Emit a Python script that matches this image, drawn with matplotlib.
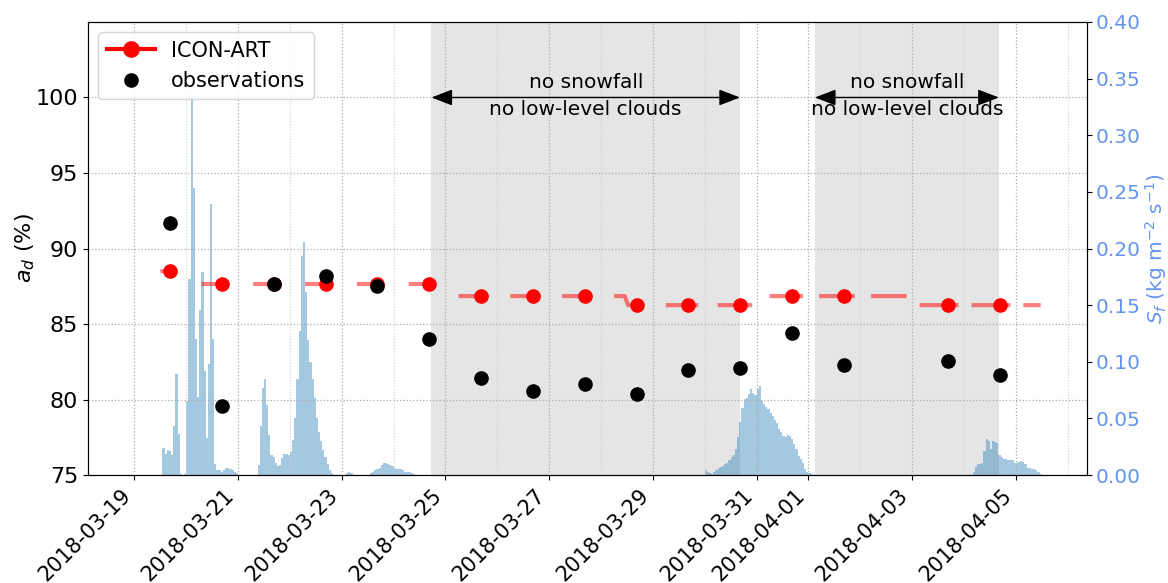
import numpy as np
import pandas as pd
import matplotlib
matplotlib.use("Agg")
import matplotlib.pyplot as plt
import matplotlib.dates as mdates
from matplotlib.lines import Line2D
from matplotlib.ticker import FormatStrFormatter

# ---------------- data ----------------
# daily values (plotted at the afternoon overpass time)
daily_dates = ["2018-03-19", "2018-03-20", "2018-03-21", "2018-03-22", "2018-03-23",
               "2018-03-24", "2018-03-25", "2018-03-26", "2018-03-27", "2018-03-28",
               "2018-03-29", "2018-03-30", "2018-03-31", "2018-04-01", "2018-04-02",
               "2018-04-03", "2018-04-04"]
daily_time = "16:30"
model_daily = [88.5, 87.65, 87.65, 87.65, 87.65, 87.65, 86.85, 86.85, 86.85, 86.25,
               86.25, 86.25, 86.85, 86.85, np.nan, 86.25, 86.25]
obs_daily = [91.7, 79.6, 87.65, 88.15, 87.5, 84.0, 81.4, 80.55, 81.0, 80.35,
             81.95, 82.1, 84.4, 82.3, np.nan, 82.55, 81.6]

# ICON-ART daytime albedo (daylight windows only)
model_seg_times = [
    ["2018-03-19 12:00", "2018-03-19 20:00"],
    ["2018-03-20 07:00", "2018-03-20 19:00"],
    ["2018-03-21 07:00", "2018-03-21 19:00"],
    ["2018-03-22 07:00", "2018-03-22 19:00"],
    ["2018-03-23 07:00", "2018-03-23 19:00"],
    ["2018-03-24 07:00", "2018-03-24 19:00"],
    ["2018-03-25 06:00", "2018-03-25 20:00"],
    ["2018-03-26 06:00", "2018-03-26 20:00"],
    ["2018-03-27 06:00", "2018-03-27 20:00"],
    ["2018-03-28 06:00", "2018-03-28 11:00", "2018-03-28 12:30", "2018-03-28 20:00"],
    ["2018-03-29 06:00", "2018-03-29 21:00"],
    ["2018-03-30 06:00", "2018-03-30 22:00"],
    ["2018-03-31 06:00", "2018-03-31 21:30"],
    ["2018-04-01 05:00", "2018-04-01 21:30"],
    ["2018-04-02 05:00", "2018-04-02 21:30"],
    ["2018-04-03 03:30", "2018-04-03 21:30"],
    ["2018-04-04 03:30", "2018-04-04 21:30"],
    ["2018-04-05 03:30", "2018-04-05 11:30"],
]
model_seg_values = [
    [88.5, 88.5],
    [87.65, 87.65],
    [87.65, 87.65],
    [87.65, 87.65],
    [87.65, 87.65],
    [87.65, 87.65],
    [86.85, 86.85],
    [86.85, 86.85],
    [86.85, 86.85],
    [86.85, 86.85, 86.25, 86.25],
    [86.25, 86.25],
    [86.25, 86.25],
    [86.85, 86.85],
    [86.85, 86.85],
    [86.85, 86.85],
    [86.25, 86.25],
    [86.25, 86.25],
    [86.25, 86.25],
]

# hourly snowfall rate S_f (kg m-2 s-1), one list per snowfall episode
snow_ep1_start = "2018-03-19 13:00"
snow_ep1 = [0.024, 0.019, 0.022, 0.021, 0.018, 0.043, 0.089, 0.036, 0.001, 0.0,
            0.001, 0.065, 0.173, 0.334, 0.253, 0.120, 0.069, 0.146, 0.179, 0.092,
            0.033, 0.098, 0.239, 0.120, 0.010, 0.004, 0.004, 0.003, 0.004, 0.006,
            0.006, 0.005, 0.004, 0.003, 0.002]
snow_ep2_start = "2018-03-21 09:00"
snow_ep2 = [0.009, 0.043, 0.077, 0.085, 0.062, 0.035, 0.018, 0.016, 0.011, 0.008,
            0.009, 0.015, 0.019, 0.019, 0.018, 0.020, 0.031, 0.050, 0.085, 0.127,
            0.193, 0.206, 0.162, 0.119, 0.100, 0.085, 0.068, 0.050, 0.038, 0.030,
            0.022, 0.016, 0.010, 0.004, 0.0015]
snow_ep3_start = "2018-03-23 02:00"
snow_ep3 = [0.002, 0.003, 0.002]
snow_ep4_start = "2018-03-23 13:00"
snow_ep4 = [0.002, 0.003, 0.004, 0.005, 0.0065, 0.009, 0.0103, 0.0103, 0.0094, 0.0085,
            0.008, 0.0065, 0.0056, 0.0053, 0.005, 0.0044, 0.0024, 0.0026, 0.0026, 0.002,
            0.001]
snow_ep5_start = "2018-03-30 00:00"
snow_ep5 = [0.004, 0.003, 0.002, 0.001, 0.0026, 0.0044, 0.006, 0.0068, 0.008, 0.0094,
            0.011, 0.013, 0.0156, 0.0177, 0.023, 0.034, 0.047, 0.059, 0.067, 0.068,
            0.0715, 0.0756, 0.072, 0.0706, 0.0756, 0.0786, 0.0656, 0.0624, 0.0598, 0.0586,
            0.055, 0.052, 0.0486, 0.0456, 0.0403, 0.0383, 0.0344, 0.0333, 0.035, 0.0344,
            0.0315, 0.0274, 0.0227, 0.0168, 0.0138, 0.0103, 0.0056, 0.003, 0.0015, 0.001]
snow_ep6_start = "2018-04-04 04:00"
snow_ep6 = [0.003, 0.0074, 0.0094, 0.010, 0.0103, 0.021, 0.0318, 0.030, 0.023, 0.030,
            0.0294, 0.028, 0.0177, 0.0156, 0.0141, 0.0141, 0.013, 0.0135, 0.013, 0.0109,
            0.0103, 0.0118, 0.0126, 0.0112, 0.0094, 0.0065, 0.0059, 0.0056, 0.0053, 0.0044,
            0.0024, 0.001]

# periods without snowfall and low-level clouds
clear_periods = [("2018-03-24 17:30", "2018-03-30 16:20"),
                 ("2018-04-01 03:00", "2018-04-04 16:10")]
clear_label = "no snowfall\nno low-level clouds"

# ---------------- figure ----------------
fig = plt.figure(figsize=(11.68, 5.83), dpi=100)
ax = fig.add_axes([0.0753, 0.1852, 0.8554, 0.7771])
ax2 = ax.twinx()
ax.set_zorder(ax2.get_zorder() + 1)
ax.patch.set_visible(False)

blue = "cornflowerblue"

# snowfall bars on the right axis
for start, vals in [(snow_ep1_start, snow_ep1), (snow_ep2_start, snow_ep2),
                    (snow_ep3_start, snow_ep3), (snow_ep4_start, snow_ep4),
                    (snow_ep5_start, snow_ep5), (snow_ep6_start, snow_ep6)]:
    t = pd.date_range(start, periods=len(vals), freq="h")
    ax2.bar(t, vals, width=1 / 24, align="edge", color="tab:blue", alpha=0.4,
            linewidth=0, zorder=2)

for t0, t1 in clear_periods:
    ax2.axvspan(pd.Timestamp(t0), pd.Timestamp(t1), color="grey", alpha=0.2,
                linewidth=0, zorder=0)

ax2.set_ylim(0, 0.4)
ax2.set_yticks(np.arange(0, 0.401, 0.05))
ax2.yaxis.set_major_formatter(FormatStrFormatter("%.2f"))
ax2.tick_params(axis="y", labelcolor=blue, labelsize=14.5, pad=2.5)
ax2.set_ylabel(r"$S_f$ (kg m$^{-2}$ s$^{-1}$)", color=blue, fontsize=14.5, labelpad=2)

# model albedo line with gaps between daylight windows
line_t, line_v = [], []
for ts, vs in zip(model_seg_times, model_seg_values):
    line_t += [pd.Timestamp(x) for x in ts] + [pd.Timestamp(ts[-1])]
    line_v += vs + [np.nan]
ax.plot(line_t, line_v, color="red", alpha=0.5, lw=3, solid_capstyle="butt", zorder=3)

day_t = [pd.Timestamp(d + " " + daily_time) for d in daily_dates]
ax.plot(day_t, model_daily, "o", color="red", ms=9.5, zorder=4)
ax.plot(day_t, obs_daily, "o", color="black", ms=9.5, zorder=5)

# annotation arrows over the clear periods
for t0, t1 in clear_periods:
    a, b = pd.Timestamp(t0), pd.Timestamp(t1)
    ax.annotate("", xy=(mdates.date2num(b), 100), xytext=(mdates.date2num(a), 100),
                arrowprops=dict(arrowstyle="<|-|>,head_length=0.65,head_width=0.25",
                                color="black", lw=1, shrinkA=0, shrinkB=0,
                                mutation_scale=20), zorder=6)
    ax.text(mdates.date2num(a + (b - a) / 2), 100.1, clear_label, ha="center",
            va="center", fontsize=14.5, linespacing=1.5, zorder=6)

ax.set_ylim(75, 105)
ax.set_yticks([75, 80, 85, 90, 95, 100])
ax.tick_params(axis="y", labelsize=16)
ax.set_ylabel(r"$a_d$ (%)", fontsize=16, labelpad=-1)

ax.set_xlim(pd.Timestamp("2018-03-18 02:30"), pd.Timestamp("2018-04-06 09:00"))
ax.xaxis.set_major_locator(mdates.DayLocator(bymonthday=range(1, 32, 2)))
ax.xaxis.set_minor_locator(mdates.DayLocator())
ax.xaxis.set_major_formatter(mdates.DateFormatter("%Y-%m-%d"))
ax.tick_params(axis="x", which="major", labelsize=15)
ax.tick_params(axis="x", which="minor", length=0)
for lab in ax.get_xticklabels():
    lab.set_rotation(45)
    lab.set_ha("right")

ax.grid(True, which="major", ls=":", color="#aaaaaa", lw=0.9)
ax.grid(True, which="minor", axis="x", ls=":", color="#cfcfcf", lw=0.8)

handles = [Line2D([], [], color="red", marker="o", lw=3, ms=11),
           Line2D([], [], color="black", marker="o", ls="none", ms=9.5)]
ax.legend(handles, ["ICON-ART", "observations"], loc="upper left", fontsize=15,
          handlelength=2.3)

fig.savefig("out.png", dpi=100)
